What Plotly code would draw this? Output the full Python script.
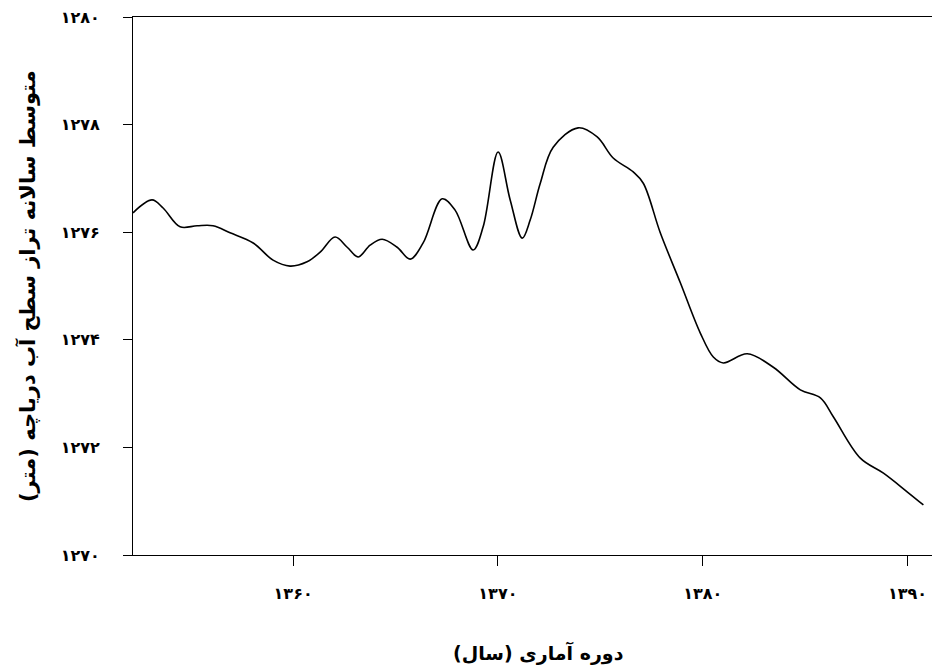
import plotly.graph_objects as go

years = [1352.18, 1353.11, 1353.65, 1354.48, 1355.31, 1356.09, 1356.92, 1358.05, 1359.02, 1359.85,
         1360.68, 1361.32, 1362.05, 1362.64, 1363.18, 1363.76, 1364.35, 1365.08, 1365.72, 1366.35,
         1367.28, 1367.91, 1368.79, 1369.28, 1370.01, 1370.60, 1371.19, 1371.58, 1372.07, 1372.70,
         1373.92, 1374.85, 1375.63, 1376.61, 1377.10, 1377.93, 1378.91, 1379.88, 1380.52, 1381.01,
         1382.18, 1383.45, 1384.77, 1385.75, 1386.38, 1387.70, 1388.83, 1390.00, 1390.78]
levels = [1276.36, 1276.60, 1276.45, 1276.10, 1276.12, 1276.12, 1275.99, 1275.80, 1275.48, 1275.37,
          1275.45, 1275.63, 1275.91, 1275.72, 1275.54, 1275.76, 1275.87, 1275.72, 1275.50, 1275.80,
          1276.62, 1276.41, 1275.67, 1276.10, 1277.49, 1276.60, 1275.89, 1276.23, 1276.91, 1277.58,
          1277.94, 1277.77, 1277.38, 1277.12, 1276.91, 1275.99, 1275.06, 1274.13, 1273.68, 1273.57,
          1273.74, 1273.49, 1273.07, 1272.92, 1272.57, 1271.80, 1271.52, 1271.17, 1270.93]

x_tickvals = [1360, 1370, 1380, 1390]
x_ticktext = ["۱۳۶۰", "۱۳۷۰", "۱۳۸۰", "۱۳۹۰"]
y_tickvals = [1270, 1272, 1274, 1276, 1278, 1280]
y_ticktext = ["۱۲۷۰", "۱۲۷۲", "۱۲۷۴", "۱۲۷۶", "۱۲۷۸", "۱۲۸۰"]

x_title = "دوره آماری (سال)"
y_title = "متوسط سالانه تراز سطح آب دریاچه (متر)"

FONT = "DejaVu Sans"

fig = go.Figure()
fig.add_trace(go.Scatter(x=years, y=levels, mode="lines",
                         line=dict(color="black", width=1.6, shape="spline", smoothing=1),
                         showlegend=False, hoverinfo="skip"))

fig.update_layout(
    width=932, height=669,
    margin=dict(l=133, r=0, t=17, b=114),
    plot_bgcolor="white", paper_bgcolor="white",
    font=dict(family=FONT, color="black"),
    xaxis=dict(range=[1352.18, 1391.2], showgrid=False, zeroline=False,
               showline=True, linecolor="black", linewidth=1.2, mirror=True,
               ticks="outside", ticklen=10, tickwidth=1.2, tickcolor="black",
               tickvals=x_tickvals, ticktext=x_ticktext,
               tickfont=dict(family=FONT, size=16, color="black", weight="bold"),
               ticklabelstandoff=14),
    yaxis=dict(range=[1270, 1280], showgrid=False, zeroline=False,
               showline=True, linecolor="black", linewidth=1.2, mirror=False,
               ticks="outside", ticklen=9, tickwidth=1.2, tickcolor="black",
               tickvals=y_tickvals, ticktext=y_ticktext,
               tickfont=dict(family=FONT, size=16, color="black", weight="bold"),
               ticklabelstandoff=20),
    annotations=[
        dict(text=x_title, xref="paper", yref="paper", x=0.508, y=-0.182,
             xanchor="center", yanchor="middle", showarrow=False,
             font=dict(family=FONT, size=19, color="black", weight="bold")),
        dict(text=y_title, xref="paper", yref="paper", x=-0.1327, y=0.5,
             xanchor="center", yanchor="middle", showarrow=False, textangle=-90,
             font=dict(family=FONT, size=21, color="black", weight="bold")),
    ],
)

fig.write_html("out.html")
